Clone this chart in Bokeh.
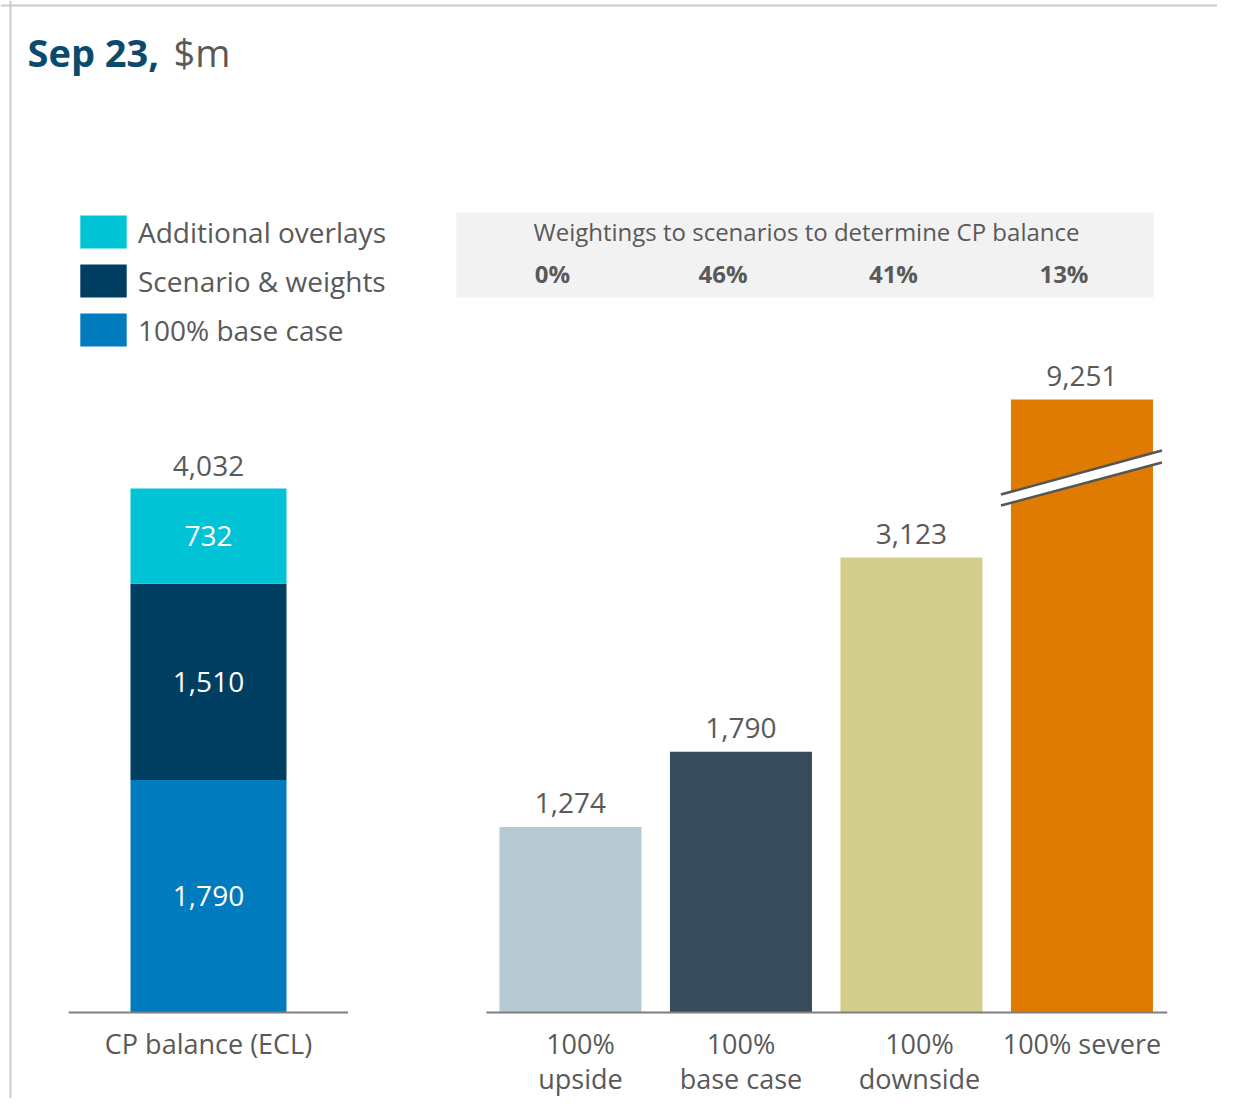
import numpy as np
from bokeh.plotting import figure
from bokeh.models import (Range1d, ColumnDataSource, Label, BoxAnnotation, Span,
                          Legend, LegendItem)
from bokeh.core.properties import value
from bokeh.embed import file_html
from bokeh.resources import INLINE

# ---------------- data ----------------
title_bold = "Sep 23,"
title_unit = "$m"
stack_category = "CP balance (ECL)"
stack_names = ["100% base case", "Scenario & weights", "Additional overlays"]
stack_values = [1790, 1510, 732]
scenarios = ["100%\nupside", "100%\nbase case", "100%\ndownside", "100% severe"]
scenario_values = [1274, 1790, 3123, 9251]
weights_title = "Weightings to scenarios to determine CP balance"
weights = [0, 46, 41, 13]

# ---------------- styles / layout ----------------
FONT = "Open Sans"
TXT = "#595959"
BLUE_TITLE = "#0b4a6c"
stack_colors = ["#007bbd", "#003e62", "#00c3d6"]
scenario_colors = ["#b8cad1", "#384b5b", "#d3ce8c", "#de7b00"]
category_label_dx = [0, 10, 0, 8, 0]   # small horizontal nudges of category labels (px)

W, H = 1217, 1098
LEFT_X = -2.123        # slot of the stacked bar; the scenario slots are 0..3
CAP = 4207             # severe bar is drawn truncated (axis break)

p = figure(width=W, height=H, x_range=Range1d(-3.343, 3.795),
           y_range=Range1d(-590.3, 6946.3), output_backend="svg",
           toolbar_location=None, tools="", x_axis_location=None,
           y_axis_location=None, min_border=0, outline_line_color=None)
p.extra_y_ranges = {"left": Range1d(-661.7, 7787.0)}
p.grid.grid_line_color = None
p.background_fill_color = "white"
p.border_fill_color = "white"

# frame lines of the panel (top and left)
p.add_layout(Span(location=H - 5, location_units="screen", dimension="width",
                  line_color="#cccccc", line_width=2))
p.add_layout(Span(location=10, location_units="screen", dimension="height",
                  line_color="#cccccc", line_width=2))

# title
p.add_layout(Label(x=27, y=H - 51, x_units="screen", y_units="screen", text=title_bold,
                   text_font=FONT, text_font_style="bold", text_font_size="38px",
                   text_color=BLUE_TITLE, text_baseline="middle"))
p.add_layout(Label(x=173, y=H - 51, x_units="screen", y_units="screen", text=title_unit,
                   text_font=FONT, text_font_size="38px",
                   text_color=TXT, text_baseline="middle"))

# ---------------- stacked bar ----------------
stack_keys = [f"s{i}" for i in range(len(stack_values))]
src_stack = ColumnDataSource(dict(x=[LEFT_X], **{k: [v] for k, v in zip(stack_keys, stack_values)}))
rs = p.vbar_stack(stack_keys, x="x", width=0.915, color=stack_colors, line_color=None,
                  source=src_stack, y_range_name="left")

cum = np.cumsum(stack_values)
mids = cum - np.array(stack_values) / 2
p.text(x=[LEFT_X] * len(stack_values), y=mids, text=[f"{v:,}" for v in stack_values],
       text_color="white", text_align="center", text_baseline="middle",
       text_font=value(FONT), text_font_size="28px", y_range_name="left")
p.text(x=[LEFT_X], y=[cum[-1]], text=[f"{cum[-1]:,}"], y_offset=-23,
       text_color=TXT, text_align="center", text_baseline="middle",
       text_font=value(FONT), text_font_size="28px", y_range_name="left")

# ---------------- scenario bars ----------------
xs = np.arange(len(scenarios))
disp = np.minimum(scenario_values, CAP)
p.vbar(x=xs, top=disp, width=0.833, color=scenario_colors, line_color=None)
p.text(x=xs, y=disp, text=[f"{v:,}" for v in scenario_values], y_offset=-24,
       text_color=TXT, text_align="center", text_baseline="middle",
       text_font=value(FONT), text_font_size="28px")

# axis break on the severe bar
bx0, bx1 = xs[-1] - 0.475, xs[-1] + 0.469
p.patch(x=[bx0, bx1, bx1, bx0], y=[3480, 3775, 3857, 3555], fill_color="white", line_color=None)
p.segment(x0=[bx0, bx0], y0=[3480, 3555], x1=[bx1, bx1], y1=[3775, 3857],
          line_color="#555555", line_width=2.5)

# baselines
p.segment(x0=[LEFT_X - 0.82, xs[0] - 0.493], y0=[0, 0], x1=[LEFT_X + 0.818, xs[-1] + 0.5],
          y1=[0, 0], line_color="#7f7f7f", line_width=2)

# category labels
cat_src = ColumnDataSource(dict(x=[LEFT_X] + list(xs), y=[0] * (len(xs) + 1),
                                text=[stack_category] + scenarios, dx=category_label_dx))
p.text(x="x", y="y", text="text", x_offset="dx", source=cat_src,
       y_offset=13, text_color=TXT, text_align="center", text_baseline="top",
       text_font=value(FONT), text_font_size="27px", text_line_height=0.92)

# ---------------- weightings box ----------------
p.add_layout(BoxAnnotation(left=456, right=1153, top=H - 212, bottom=H - 297,
                           left_units="screen", right_units="screen",
                           top_units="screen", bottom_units="screen",
                           fill_color="#f2f2f2", fill_alpha=1, line_color=None,
                           level="underlay"))
p.add_layout(Label(x=533, y=H - 231, x_units="screen", y_units="screen", text=weights_title,
                   text_font=FONT, text_font_size="24px", text_color=TXT,
                   text_baseline="middle"))
for xi, w in zip(xs, weights):
    p.add_layout(Label(x=xi, y=H - 273, x_units="data", y_units="screen", x_offset=-18,
                       text=f"{w}%", text_font=FONT, text_font_style="bold",
                       text_font_size="24px", text_color=TXT, text_align="center",
                       text_baseline="middle"))

# ---------------- legend ----------------
legend = Legend(items=[LegendItem(label=stack_names[i], renderers=[rs[i]]) for i in (2, 1, 0)],
                location=(74, H - 350), orientation="vertical",
                glyph_width=58, glyph_height=41, label_height=41, spacing=8,
                label_standoff=6, padding=0, margin=0, border_line_color=None,
                background_fill_alpha=0, label_text_font=FONT,
                label_text_font_size="28px", label_text_color=TXT)
p.add_layout(legend)

open("out.html", "w").write(file_html(p, INLINE))
